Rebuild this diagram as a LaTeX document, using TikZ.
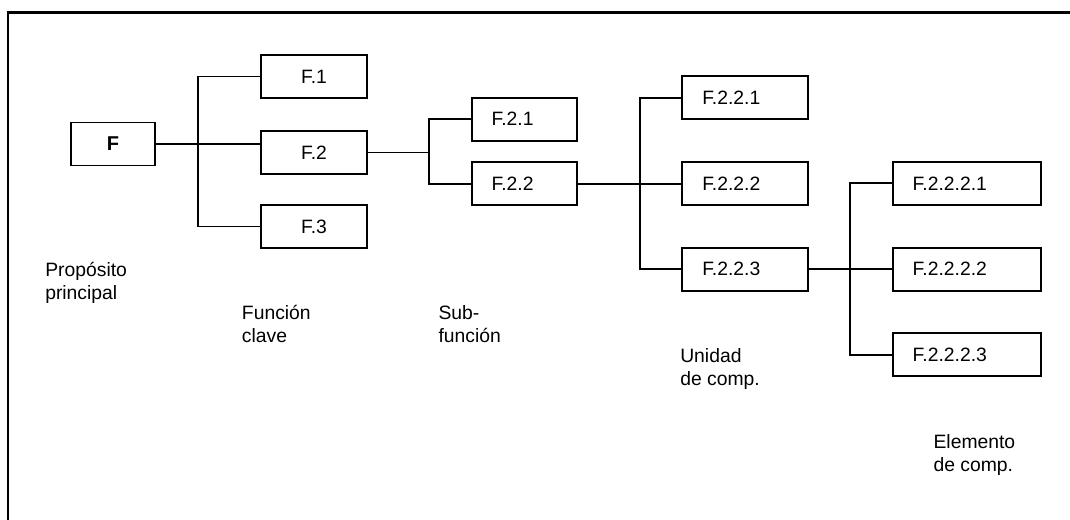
\documentclass[tikz,border=0pt]{standalone}
\usepackage{fontspec}
\setmainfont{Liberation Sans}
\begin{document}
\begin{tikzpicture}[x=0.75pt,y=-0.75pt,
  every node/.style={font=\fontsize{14.5}{17.25}\selectfont},
  frame/.style={draw=black,line width=1.6pt},
  conn/.style={draw=black,line width=1.25pt},
  cbox/.style={draw=black,line width=1.3pt,rectangle,minimum height=32.25pt,inner xsep=0pt,align=center},
  lbox/.style={draw=black,line width=1.3pt,rectangle,minimum height=32.25pt,inner xsep=15pt,align=left},
  lbl/.style={anchor=base west,inner sep=0pt,align=left}]
\path[use as bounding box,clip] (0,0) rectangle (1070,520);
\fill[white] (0,0) rectangle (1070,520);
\draw[frame] (8,12.5) rectangle (1100,560);
% boxes
\node[cbox,minimum width=63pt,font=\fontsize{15}{17.25}\selectfont\bfseries] (F) at (113,144) {F};
\node[cbox,minimum width=79.5pt] (F1) at (314,76.5) {F.1};
\node[cbox,minimum width=79.5pt] (F2) at (314,152.5) {F.2};
\node[cbox,minimum width=79.5pt] (F3) at (314,226.5) {F.3};
\node[lbox,text width=49pt] (F21) at (524.3,119.2) {F.2.1};
\node[lbox,text width=49pt] (F22) at (524.3,183.7) {F.2.2};
\node[lbox,text width=64.5pt] (F221) at (745.3,97.7) {F.2.2.1};
\node[lbox,text width=64.5pt] (F222) at (745.3,183.7) {F.2.2.2};
\node[lbox,text width=64.5pt] (F223) at (745.3,269.2) {F.2.2.3};
\node[lbox,text width=81pt] (F2221) at (966.7,183.3) {F.2.2.2.1};
\node[lbox,text width=81pt] (F2222) at (966.7,269.2) {F.2.2.2.2};
\node[lbox,text width=81pt] (F2223) at (966.7,354.7) {F.2.2.2.3};
% bus coordinates
\coordinate (b1) at (198,145);
\coordinate (b2) at (429,152);
\coordinate (b3) at (640,184);
\coordinate (b4) at (850,269);
% connectors
\draw[conn] (F.east) -- (F.east -| F2.west);
\draw[conn] (F1.west) -- (F1.west -| b1) -- (F3.west -| b1) -- (F3.west);
\draw[conn] (F2.east) -- (F2.east -| b2);
\draw[conn] (F21.west) -- (F21.west -| b2) -- (F22.west -| b2) -- (F22.west);
\draw[conn] (F22.east) -- (F222.west);
\draw[conn] (F221.west) -- (F221.west -| b3) -- (F223.west -| b3) -- (F223.west);
\draw[conn] (F223.east) -- (F2222.west);
\draw[conn] (F2221.west) -- (F2221.west -| b4) -- (F2223.west -| b4) -- (F2223.west);
% level labels (anchored at baseline of the last line)
\node[lbl] (l1) at (45,299.3) {Propósito\\principal};
\node[lbl] (l2) at (241.7,342.7) {Función\\clave};
\node[lbl] (l3) at (438.3,342.7) {Sub-\\función};
\node[lbl] (l4) at (680,385.7) {Unidad\\de comp.};
\node[lbl] (l5) at (933.3,471.7) {Elemento\\de comp.};
\end{tikzpicture}
\end{document}
